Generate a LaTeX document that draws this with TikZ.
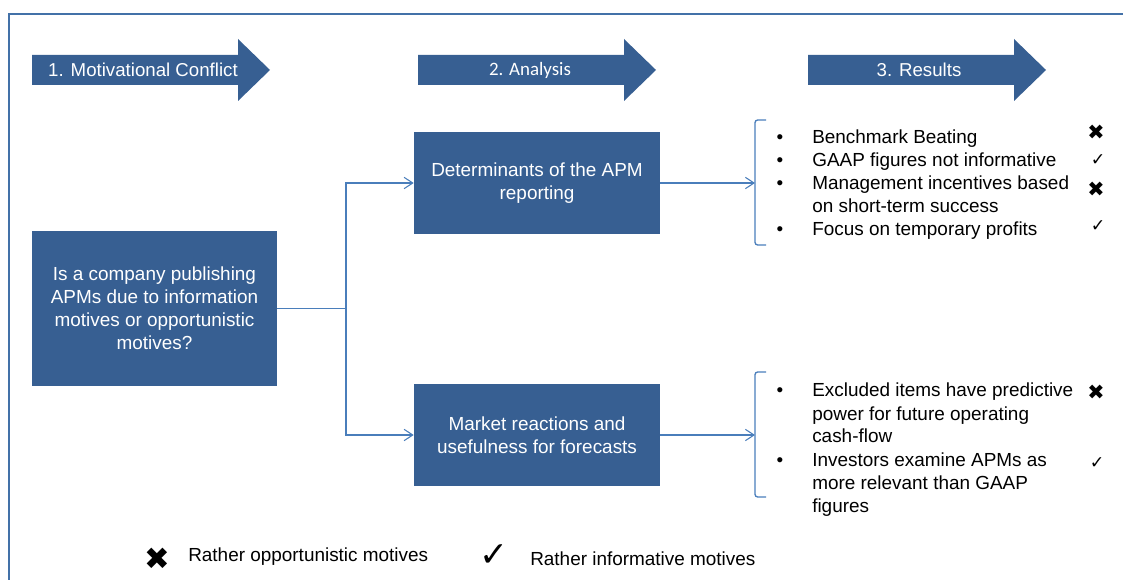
\documentclass[tikz,border=0pt]{standalone}
\usepackage{fontspec}
\setmainfont{Liberation Sans}
\newfontfamily\calibrifont{Carlito}
\newfontfamily\symfont{DejaVu Sans}
\usetikzlibrary{arrows.meta}

\definecolor{boxblue}{RGB}{55,95,146}
\definecolor{lineblue}{RGB}{74,126,187}

\newcommand{\crossmark}{{\symfont ✖}}
\newcommand{\tickmark}{{\symfont ✓}}
\newcommand{\toplines}[1]{\begin{tabular}[t]{@{}l@{}}#1\end{tabular}}

\tikzset{
	hdarrow/.style={fill=boxblue},
	hdtext/.style={text=white, font=\fontsize{14}{17}\selectfont, inner sep=0pt},
	bluebox/.style={fill=boxblue, text=white, align=center, inner sep=0pt,
		font=\fontsize{14.2}{17.25}\selectfont},
	conn/.style={draw=lineblue, line width=1pt},
	opentip/.style={-{Straight Barb[length=6.5pt,width=8.5pt,line width=0.8pt]}},
	item/.style={anchor=base west, inner sep=0pt,
		font=\fontsize{14.2}{17.25}\selectfont},
	bulletdot/.style={anchor=base, inner sep=0pt, font=\fontsize{14.2}{17.25}\selectfont},
	symb/.style={inner sep=0pt},
	xsmall/.style={symb, font=\fontsize{15.5}{15.5}\selectfont},
	tsmall/.style={symb, font=\fontsize{13}{13}\selectfont}
}

\begin{document}
\begin{tikzpicture}[x=0.75pt,y=-0.75pt]
	\useasboundingbox (0,0) rectangle (1123,580);
	% frame
	\draw[lineblue!90!black, line width=1.5pt] (9,580) -- (9,14) -- (1123,14);

	% header arrows
	\foreach \x in {32,418,808}
		\fill[hdarrow] (\x,55) -- ++(206,0) -- ++(0,-16) -- ++(32,31) -- ++(-32,31) -- ++(0,-16) -- ++(-206,0) -- cycle;
	\node[hdtext] (h1) at (143,70) {1. Motivational Conflict};
	\node[hdtext, font=\calibrifont\fontsize{14.2}{17}\selectfont] (h2) at (530,70) {2. Analysis};
	\node[hdtext] (h3) at (919,70) {3. Results};

	% boxes
	\node[bluebox, minimum width=183.75pt, minimum height=116.25pt] (q) at (154.5,308.5)
		{Is a company publishing\\APMs due to information\\motives or opportunistic\\motives?};
	\node[bluebox, minimum width=184.5pt, minimum height=76.5pt] (det) at (537,183)
		{Determinants of the APM\\reporting};
	\node[bluebox, minimum width=184.5pt, minimum height=76.5pt] (mkt) at (537,435)
		{Market reactions and\\usefulness for forecasts};

	% connectors
	\coordinate (split) at (346,308.5);
	\draw[conn] (q.east) -- (split);
	\draw[conn, opentip] (split) |- (det.west);
	\draw[conn, opentip] (split) |- (mkt.west);

	\coordinate (detbr) at (755,183);
	\coordinate (mktbr) at (755,435);
	\draw[conn, opentip] (det.east) -- (detbr);
	\draw[conn, opentip] (mkt.east) -- (mktbr);

	% brackets
	\draw[conn, rounded corners=2pt] (766,120) -| (755,245) -- (766,245);
	\draw[conn, rounded corners=2pt] (766,372) -| (755,497) -- (766,497);

	% results, upper list
	\node[bulletdot] (b1) at (780,144) {•};
	\node[item] (r1) at (812,144) {Benchmark Beating};
	\node[bulletdot] (b2) at (780,167) {•};
	\node[item] (r2) at (812,167) {GAAP figures not informative};
	\node[bulletdot] (b3) at (780,190) {•};
	\node[item] (r3) at (812,190) {\toplines{Management incentives based\\on short-term success}};
	\node[bulletdot] (b4) at (780,236) {•};
	\node[item] (r4) at (812,236) {Focus on temporary profits};

	\node[xsmall] (m1) at (1096,132) {\crossmark};
	\node[tsmall] (m2) at (1098,160) {\tickmark};
	\node[xsmall] (m3) at (1096,189) {\crossmark};
	\node[tsmall] (m4) at (1098,226) {\tickmark};

	% results, lower list
	\node[bulletdot] (b5) at (780,397) {•};
	\node[item] (r5) at (812,397) {\toplines{Excluded items have predictive\\power for future operating\\cash-flow}};
	\node[bulletdot] (b6) at (780,466) {•};
	\node[item] (r6) at (812,466) {\toplines{Investors examine APMs as\\more relevant than GAAP\\figures}};

	\node[xsmall] (m5) at (1096,392) {\crossmark};
	\node[tsmall] (m6) at (1097,463) {\tickmark};

	% legend
	\node[symb, font=\fontsize{23}{23}\selectfont] (lx) at (157,559) {\crossmark};
	\node[item, anchor=west] (lxt) at (188,557) {Rather opportunistic motives};
	\node[symb, font=\fontsize{26}{26}\selectfont] (lc) at (494,556) {\tickmark};
	\node[item, anchor=west] (lct) at (530,559) {Rather informative motives};
\end{tikzpicture}
\end{document}
